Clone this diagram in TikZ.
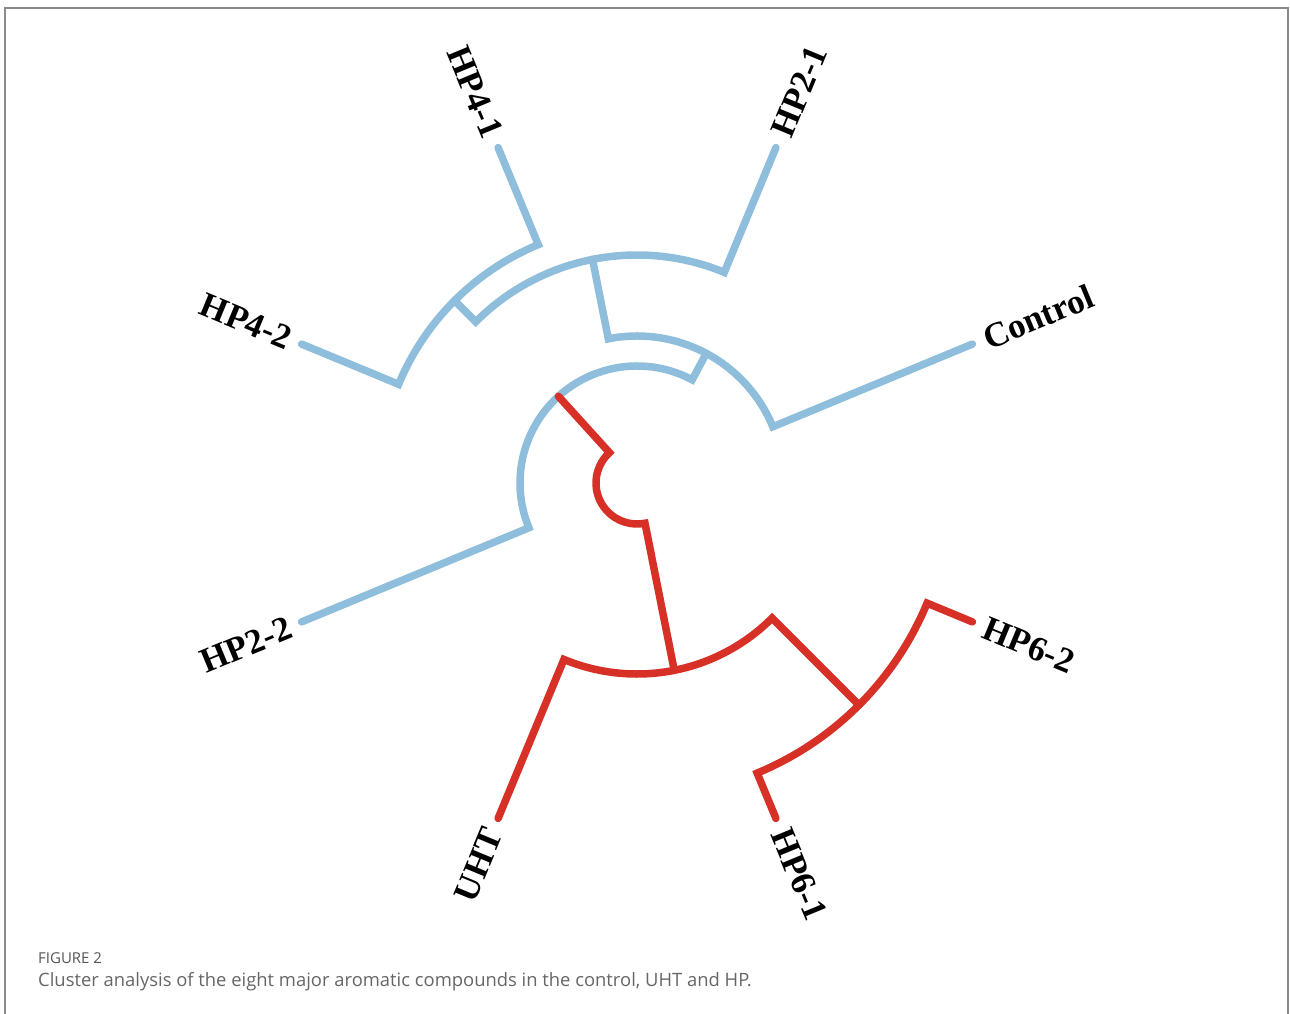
\documentclass[tikz,border=0pt]{standalone}
\usepackage{fontspec}
\setmainfont{Liberation Serif}
\newfontfamily\capfont{Open Sans}
\definecolor{tblue}{HTML}{8FBEDC}
\definecolor{tred}{HTML}{D73027}
\definecolor{capgray}{HTML}{666666}
\definecolor{figgray}{HTML}{555555}
\definecolor{framegray}{HTML}{8A8A8A}
\begin{document}
\begin{tikzpicture}[x=1pt,y=1pt,
  br/.style={line width=7.5pt, line cap=round, line join=miter},
  bl/.style={br, draw=tblue},
  rd/.style={br, draw=tred},
  lab/.style={font=\fontsize{35}{40}\selectfont\bfseries, inner sep=0pt},
  capt/.style={font=\capfont\fontsize{18.4}{22}\selectfont, text=capgray, inner sep=0pt, anchor=base west}]
\useasboundingbox (0,0) rectangle (1290,-1014);
\draw[framegray, line width=1.5pt] (5,-1030) -- (5,-8) -- (1288,-8) -- (1288,-1030);
\begin{scope}[shift={(637,-483)}]
  % leaves
  \coordinate (lCtrl) at (22.5:363);
  \coordinate (lHP21) at (67.5:363);
  \coordinate (lHP41) at (112.5:363);
  \coordinate (lHP42) at (157.5:363);
  \coordinate (lHP22) at (202.5:363);
  \coordinate (lUHT)  at (247.5:363);
  \coordinate (lHP61) at (292.5:363);
  \coordinate (lHP62) at (337.5:363);
  % arc ends
  \coordinate (aHP41) at (112.5:258);
  \coordinate (aUHT)  at (247.5:191);
  \coordinate (aHP61) at (292.5:314);
  % junctions
  \coordinate (jA)  at (135:258);      \coordinate (jAi) at (135:228);
  \coordinate (jB)  at (101.25:228);   \coordinate (jBi) at (101.25:147);
  \coordinate (jC)  at (61.875:147);   \coordinate (jCi) at (61.875:117);
  \coordinate (jD)  at (132.1875:117); \coordinate (jDi) at (132.1875:41);
  \coordinate (jE)  at (315:314);
  \coordinate (jF)  at (281.25:191);
  % blue cluster
  \draw[bl] (lHP41) -- (aHP41) arc[start angle=112.5, end angle=157.5, radius=258] -- (lHP42);
  \draw[bl] (jA) -- (jAi) arc[start angle=135, end angle=67.5, radius=228] -- (lHP21);
  \draw[bl] (jB) -- (jBi) arc[start angle=101.25, end angle=22.5, radius=147] -- (lCtrl);
  \draw[bl] (jC) -- (jCi) arc[start angle=61.875, end angle=202.5, radius=117] -- (lHP22);
  % red cluster
  \draw[rd] (lHP61) -- (aHP61) arc[start angle=292.5, end angle=337.5, radius=314] -- (lHP62);
  \draw[rd] (lUHT) -- (aUHT) arc[start angle=247.5, end angle=315, radius=191] -- (jE);
  \draw[rd] (jD) -- (jDi) arc[start angle=132.1875, end angle=281.25, radius=41] -- (jF);
  % labels
  \node[lab, anchor=west, rotate=22.5]  (tCtrl) at (22.5:376)  {Control};
  \node[lab, anchor=west, rotate=67.5]  (tHP21) at (67.5:376)  {HP2-1};
  \node[lab, anchor=east, rotate=-67.5] (tHP41) at (112.5:375) {HP4-1};
  \node[lab, anchor=east, rotate=-22.5] (tHP42) at (157.5:375) {HP4-2};
  \node[lab, anchor=east, rotate=22.5]  (tHP22) at (202.5:375) {HP2-2};
  \node[lab, anchor=east, rotate=67.5]  (tUHT)  at (247.5:375) {UHT};
  \node[lab, anchor=west, rotate=-67.5] (tHP61) at (292.5:376) {HP6-1};
  \node[lab, anchor=west, rotate=-22.5] (tHP62) at (337.5:376) {HP6-2};
\end{scope}
\node[capt, font=\capfont\fontsize{15}{18}\selectfont, text=figgray] (fig) at (38,-963) {FIGURE 2};
\node[capt] (cap) at (38,-986) {Cluster analysis of the eight major aromatic compounds in the control, UHT and HP.};
\end{tikzpicture}
\end{document}
